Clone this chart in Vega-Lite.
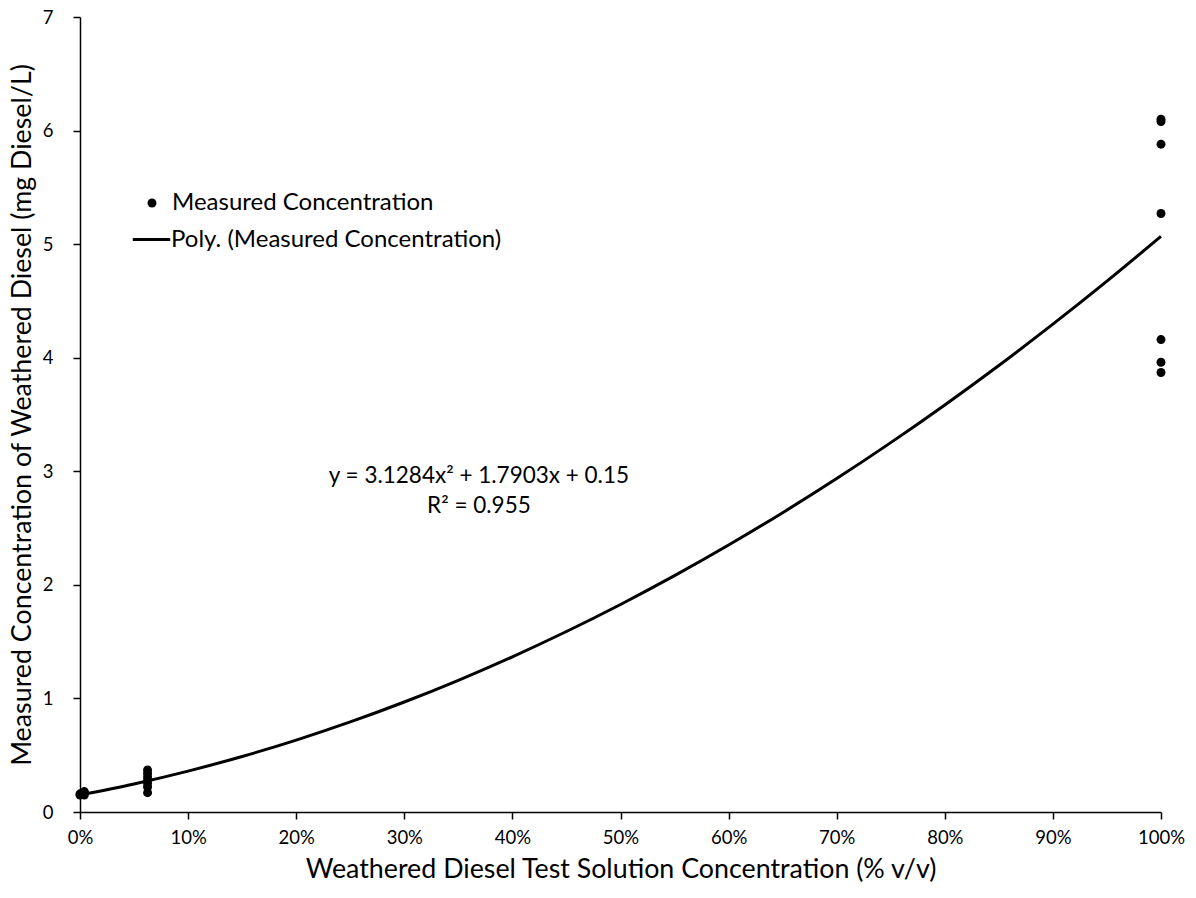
{
  "$schema": "https://vega.github.io/schema/vega-lite/v6.json",
  "width": 1081,
  "height": 795,
  "autosize": {"type": "none"},
  "padding": {"left": 80, "top": 17, "right": 35, "bottom": 86},
  "background": "white",
  "config": {
    "view": {"stroke": null},
    "font": "Lato",
    "axis": {
      "grid": false,
      "domainColor": "black",
      "domainWidth": 1.5,
      "tickColor": "black",
      "tickWidth": 1.5,
      "labelColor": "black",
      "titleColor": "black",
      "labelFont": "Lato",
      "titleFont": "Lato",
      "labelFontSize": 18.5,
      "titleFontSize": 26.8,
      "titleFontWeight": "normal"
    }
  },
  "datasets": {
    "measured": [
      {"x": 0, "y": 0.15, "series": "Measured Concentration"},
      {"x": 0, "y": 0.16, "series": "Measured Concentration"},
      {"x": 0.004, "y": 0.15, "series": "Measured Concentration"},
      {"x": 0.004, "y": 0.17, "series": "Measured Concentration"},
      {"x": 0.004, "y": 0.18, "series": "Measured Concentration"},
      {"x": 0.0625, "y": 0.17, "series": "Measured Concentration"},
      {"x": 0.0625, "y": 0.22, "series": "Measured Concentration"},
      {"x": 0.0625, "y": 0.25, "series": "Measured Concentration"},
      {"x": 0.0625, "y": 0.28, "series": "Measured Concentration"},
      {"x": 0.0625, "y": 0.31, "series": "Measured Concentration"},
      {"x": 0.0625, "y": 0.34, "series": "Measured Concentration"},
      {"x": 0.0625, "y": 0.37, "series": "Measured Concentration"},
      {"x": 1, "y": 6.10, "series": "Measured Concentration"},
      {"x": 1, "y": 6.08, "series": "Measured Concentration"},
      {"x": 1, "y": 5.88, "series": "Measured Concentration"},
      {"x": 1, "y": 5.27, "series": "Measured Concentration"},
      {"x": 1, "y": 4.16, "series": "Measured Concentration"},
      {"x": 1, "y": 3.96, "series": "Measured Concentration"},
      {"x": 1, "y": 3.87, "series": "Measured Concentration"}
    ],
    "trend": [
      {"x": 0, "y": 0.15, "fit": "Poly. (Measured Concentration)"},
      {"x": 0.05, "y": 0.2473, "fit": "Poly. (Measured Concentration)"},
      {"x": 0.1, "y": 0.3603, "fit": "Poly. (Measured Concentration)"},
      {"x": 0.15, "y": 0.4889, "fit": "Poly. (Measured Concentration)"},
      {"x": 0.2, "y": 0.6332, "fit": "Poly. (Measured Concentration)"},
      {"x": 0.25, "y": 0.7931, "fit": "Poly. (Measured Concentration)"},
      {"x": 0.3, "y": 0.9686, "fit": "Poly. (Measured Concentration)"},
      {"x": 0.35, "y": 1.1598, "fit": "Poly. (Measured Concentration)"},
      {"x": 0.4, "y": 1.3667, "fit": "Poly. (Measured Concentration)"},
      {"x": 0.45, "y": 1.5891, "fit": "Poly. (Measured Concentration)"},
      {"x": 0.5, "y": 1.8273, "fit": "Poly. (Measured Concentration)"},
      {"x": 0.55, "y": 2.0810, "fit": "Poly. (Measured Concentration)"},
      {"x": 0.6, "y": 2.3504, "fit": "Poly. (Measured Concentration)"},
      {"x": 0.65, "y": 2.6354, "fit": "Poly. (Measured Concentration)"},
      {"x": 0.7, "y": 2.9361, "fit": "Poly. (Measured Concentration)"},
      {"x": 0.75, "y": 3.2524, "fit": "Poly. (Measured Concentration)"},
      {"x": 0.8, "y": 3.5844, "fit": "Poly. (Measured Concentration)"},
      {"x": 0.85, "y": 3.9320, "fit": "Poly. (Measured Concentration)"},
      {"x": 0.9, "y": 4.2953, "fit": "Poly. (Measured Concentration)"},
      {"x": 0.95, "y": 4.6742, "fit": "Poly. (Measured Concentration)"},
      {"x": 1.0, "y": 5.0687, "fit": "Poly. (Measured Concentration)"}
    ],
    "note": [
      {"x": 0.369, "y": 2.96, "label": ["y = 3.1284x² + 1.7903x + 0.15", "R² = 0.955"]}
    ]
  },
  "encoding": {
    "x": {
      "field": "x",
      "type": "quantitative",
      "scale": {"domain": [0, 1], "nice": false, "zero": false},
      "axis": {
        "title": "Weathered Diesel Test Solution Concentration (% v/v)",
        "format": ".0%",
        "values": [0, 0.1, 0.2, 0.3, 0.4, 0.5, 0.6, 0.7, 0.8, 0.9, 1],
        "labelFlush": false,
        "tickSize": 7,
        "labelPadding": 9,
        "titlePadding": 10
      }
    },
    "y": {
      "field": "y",
      "type": "quantitative",
      "scale": {"domain": [0, 7], "nice": false},
      "axis": {
        "title": "Measured Concentration of Weathered Diesel (mg Diesel/L)",
        "values": [0, 1, 2, 3, 4, 5, 6, 7],
        "labelFlush": false,
        "tickSize": 7,
        "labelPadding": 20,
        "titlePadding": 6
      }
    }
  },
  "layer": [
    {
      "data": {"name": "trend"},
      "mark": {"type": "line", "strokeWidth": 3, "interpolate": "monotone"},
      "encoding": {
        "stroke": {
          "field": "fit",
          "type": "nominal",
          "scale": {"range": ["black"]},
          "legend": {
            "title": null,
            "orient": "none",
            "legendX": 51,
            "legendY": 202,
            "padding": 0,
            "labelFontSize": 24,
            "labelFont": "Lato",
            "labelColor": "black",
            "labelLimit": 1000,
            "labelOffset": -1,
            "symbolType": "stroke",
            "symbolSize": 1400,
            "symbolStrokeWidth": 3,
            "symbolStrokeColor": "black"
          }
        }
      }
    },
    {
      "data": {"name": "measured"},
      "mark": {"type": "point", "filled": true, "opacity": 1, "size": 80},
      "encoding": {
        "fill": {
          "field": "series",
          "type": "nominal",
          "scale": {"range": ["black"]},
          "legend": {
            "title": null,
            "orient": "none",
            "legendX": 60,
            "legendY": 174,
            "padding": 0,
            "labelFontSize": 24,
            "labelFont": "Lato",
            "labelColor": "black",
            "labelLimit": 1000,
            "labelOffset": 8,
            "symbolType": "circle",
            "symbolSize": 80,
            "symbolOpacity": 1
          }
        }
      }
    },
    {
      "data": {"name": "note"},
      "mark": {"type": "text", "fontSize": 22.5, "font": "Lato", "color": "black", "align": "center", "baseline": "middle", "lineHeight": 30},
      "encoding": {"text": {"field": "label"}}
    }
  ]
}
